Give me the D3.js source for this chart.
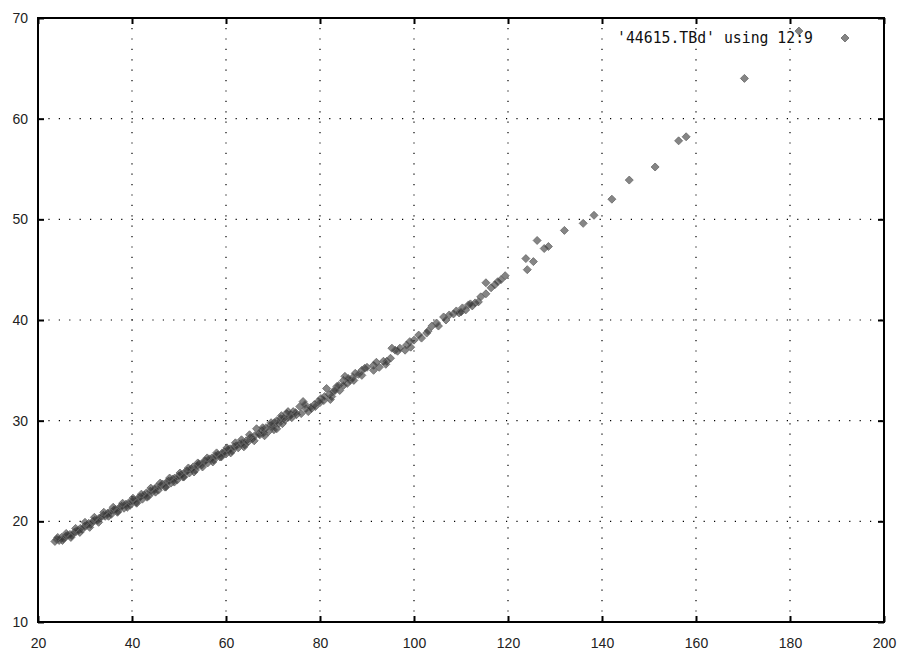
<!DOCTYPE html>
<html><head><meta charset="utf-8">
<script src="https://cdn.jsdelivr.net/npm/d3@7"></script>
<style>body{margin:0;background:#fff}svg{display:block}</style>
</head><body>
<svg id="chart" width="904" height="661"></svg>
<script>
const seriesLabel = "'44615.TBd' using 12:9";
const xTicks = [20,40,60,80,100,120,140,160,180,200];
const yTicks = [10,20,30,40,50,60,70];
const xValues = [23.6,24.0,24.5,25.0,25.4,25.9,26.3,26.8,27.2,27.7,28.1,28.6,29.0,29.4,29.9,30.3,30.8,31.2,31.7,32.1,32.6,33.0,33.4,33.9,34.3,34.8,35.2,35.6,36.1,36.5,37.0,37.4,37.8,38.3,38.7,39.2,39.6,40.0,40.4,40.9,41.3,41.7,42.2,42.6,43.0,43.5,43.9,44.3,44.8,45.2,45.6,46.1,46.5,47.0,47.4,47.8,48.3,48.7,49.1,49.6,50.0,50.4,50.9,51.3,51.7,52.2,52.6,53.0,53.5,53.9,54.3,54.8,55.2,55.6,56.1,56.5,57.0,57.4,57.8,58.3,58.7,59.2,59.6,60.0,60.4,60.9,61.3,61.7,62.2,62.6,63.0,63.3,63.5,64.0,64.3,64.7,65.2,65.6,66.1,66.5,67.0,67.2,67.6,68.0,68.5,69.0,69.4,69.9,70.3,70.8,70.8,71.2,71.6,72.2,72.6,72.9,73.4,73.8,74.3,74.8,75.7,76.4,77.0,77.5,78.2,78.8,79.6,80.2,80.8,81.4,82.0,82.5,82.8,83.6,84.2,85.0,85.3,85.8,86.4,87.0,87.5,88.9,88.9,89.5,91.4,91.4,93.5,94.2,94.0,95.3,96.0,96.5,98.1,98.4,99.1,99.3,101.6,102.7,103.8,104.8,105.2,106.3,106.8,108.4,109.0,109.6,110.3,111.0,111.6,112.4,113.0,113.7,115.3,115.3,116.4,117.2,117.8,118.5,119.4,123.8,124.1,125.4,126.2,127.7,128.6,132.0,136.0,138.3,142.1,145.8,151.3,156.3,157.9,170.3,181.9];
const yValues = [18.0,18.2,18.1,18.4,18.3,18.5,18.6,18.7,18.6,18.9,19.0,19.1,19.3,19.2,19.5,19.6,19.8,19.7,20.0,20.1,20.1,20.3,20.4,20.6,20.5,20.8,20.9,20.7,21.1,21.2,21.0,21.4,21.5,21.3,21.7,21.8,21.6,22.0,22.1,21.9,22.3,22.4,22.2,22.6,22.8,22.5,23.0,22.9,23.2,23.4,23.1,23.5,23.7,23.4,23.9,24.0,23.8,24.2,24.3,24.1,24.5,24.6,24.4,24.9,25.0,24.8,25.2,25.4,25.1,25.5,25.7,25.6,25.9,26.0,25.8,26.2,26.3,26.1,26.5,26.6,26.4,26.8,26.9,26.7,27.1,27.2,27.0,27.4,27.5,27.3,27.7,28.1,27.8,27.6,28.0,27.9,28.3,28.2,28.5,29.2,28.7,28.6,29.0,28.8,29.3,28.9,29.5,29.4,29.8,30.0,29.2,29.7,30.2,30.2,30.1,30.7,30.4,30.6,30.9,30.8,31.4,31.9,31.2,30.9,31.2,31.6,31.9,32.2,32.0,33.2,32.6,32.4,32.9,33.4,33.0,34.0,34.4,33.7,34.0,34.3,34.7,35.0,34.5,35.2,35.5,35.0,35.9,35.9,35.6,37.2,37.0,36.9,37.0,37.5,37.85,37.3,38.2,38.7,39.4,39.7,39.4,40.3,40.0,40.6,40.9,40.7,41.2,41.0,41.5,41.4,41.7,41.8,42.6,43.7,43.2,43.5,43.8,44.0,44.4,46.1,45.0,45.8,47.9,47.1,47.3,48.9,49.6,50.4,52.0,53.9,55.2,57.8,58.2,64.0,68.7];
const xExtra = [24.2,25.2,26.0,27.0,28.0,28.9,30.0,31.0,32.0,32.9,34.0,35.0,36.0,36.9,38.0,39.0,40.2,41.0,42.0,43.2,44.0,45.0,46.0,47.2,48.0,49.0,50.2,51.0,52.0,53.2,54.0,55.0,56.0,57.2,58.0,59.0,60.2,61.0,62.0,63.8,65.0,66.0,67.8,68.2,69.6,70.2,71.8,72.0,73.2,74.0,75.0,76.0,76.8,78.0,79.0,80.0,81.0,82.2,83.2,84.0,85.0,86.0,87.2,88.2,90.0,92.0,92.6,95.0,97.0,100.0,101.0,103.0,107.5,110.0,112.0,114.2];
const yExtra = [18.4,18.1,18.8,18.4,19.3,18.9,19.9,19.4,20.4,19.9,20.9,20.5,21.4,20.9,21.8,21.4,22.3,21.8,22.7,22.4,23.3,22.9,23.8,23.4,24.3,23.9,24.8,24.4,25.3,24.9,25.8,25.4,26.3,25.9,26.8,26.4,27.3,26.8,27.8,27.4,28.6,28.0,29.3,28.5,29.8,29.1,30.5,29.7,30.9,30.3,30.6,30.7,31.6,31.3,31.4,31.8,32.4,32.1,33.0,33.5,33.5,34.2,34.0,34.6,35.3,35.8,35.3,36.2,37.2,38.0,38.5,38.9,40.5,40.8,41.6,42.3];

const W = 904, H = 661;
const margin = {left: 38, top: 18, right: 20, bottom: 39};
const svg = d3.select("#chart");
const x = d3.scaleLinear().domain([20, 200]).range([margin.left, W - margin.right]);
const y = d3.scaleLinear().domain([10, 70]).range([H - margin.bottom, margin.top]);
const x0 = x.range()[0], x1 = x.range()[1], y0 = y.range()[0], y1 = y.range()[1];

// grid
const grid = svg.append("g");
grid.selectAll("line.gx").data(xTicks.slice(1, -1)).join("line")
  .attr("x1", d => x(d)).attr("x2", d => x(d)).attr("y1", y0).attr("y2", y1)
  .attr("stroke", "#000").attr("stroke-width", 1.2).attr("stroke-dasharray", "1.2,9.2");
grid.selectAll("line.gy").data(yTicks.slice(1, -1)).join("line")
  .attr("y1", d => y(d)).attr("y2", d => y(d)).attr("x1", x0).attr("x2", x1)
  .attr("stroke", "#000").attr("stroke-width", 1.2).attr("stroke-dasharray", "1.2,9.2");

// axes with inner ticks
const fontSans = "'Liberation Sans', Arial, sans-serif";
const xAxis = d3.axisBottom(x).tickValues(xTicks).tickSize(-6).tickPadding(16).tickFormat(d3.format("d"));
const gx = svg.append("g").attr("transform", `translate(0,${y0})`).call(xAxis);
const xTop = d3.axisTop(x).tickValues(xTicks).tickSize(-6).tickFormat("");
const gxt = svg.append("g").attr("transform", `translate(0,${y1})`).call(xTop);
const yAxis = d3.axisLeft(y).tickValues(yTicks).tickSize(-6).tickPadding(10).tickFormat(d3.format("d"));
const gy = svg.append("g").attr("transform", `translate(${x0},0)`).call(yAxis);
const yRight = d3.axisRight(y).tickValues(yTicks).tickSize(-6).tickFormat("");
const gyr = svg.append("g").attr("transform", `translate(${x1},0)`).call(yRight);
[gx, gxt, gy, gyr].forEach(g => {
  g.select(".domain").remove();
  g.selectAll(".tick line").attr("stroke", "#000").attr("stroke-width", 2);
  g.selectAll("text").attr("font-family", fontSans).attr("font-size", 14).attr("fill", "#222");
});

// frame
svg.append("rect").attr("x", x0).attr("y", y1).attr("width", x1 - x0).attr("height", y0 - y1)
  .attr("fill", "none").attr("stroke", "#000").attr("stroke-width", 2);

// points
const diamond = (cx, cy, r) => `M${cx},${cy - r}L${cx + r},${cy}L${cx},${cy + r}L${cx - r},${cy}Z`;
const pts = xValues.map((v, i) => [v, yValues[i]]).concat(xExtra.map((v, i) => [v, yExtra[i]]));
svg.append("g").selectAll("path").data(pts).join("path")
  .attr("d", d => diamond(x(d[0]), y(d[1]), 4))
  .attr("fill", "#333").attr("fill-opacity", 0.6)
  .attr("stroke", "#666").attr("stroke-opacity", 0.8).attr("stroke-width", 1);

// legend
svg.append("text").attr("x", 617).attr("y", 43)
  .attr("font-family", "'DejaVu Sans Mono', monospace").attr("font-size", 15)
  .attr("textLength", 196).attr("lengthAdjust", "spacingAndGlyphs")
  .attr("fill", "#111").text(seriesLabel);
svg.append("path").attr("d", diamond(845, 38, 4))
  .attr("fill", "#333").attr("fill-opacity", 0.6)
  .attr("stroke", "#666").attr("stroke-opacity", 0.8).attr("stroke-width", 1);
</script>
</body></html>
